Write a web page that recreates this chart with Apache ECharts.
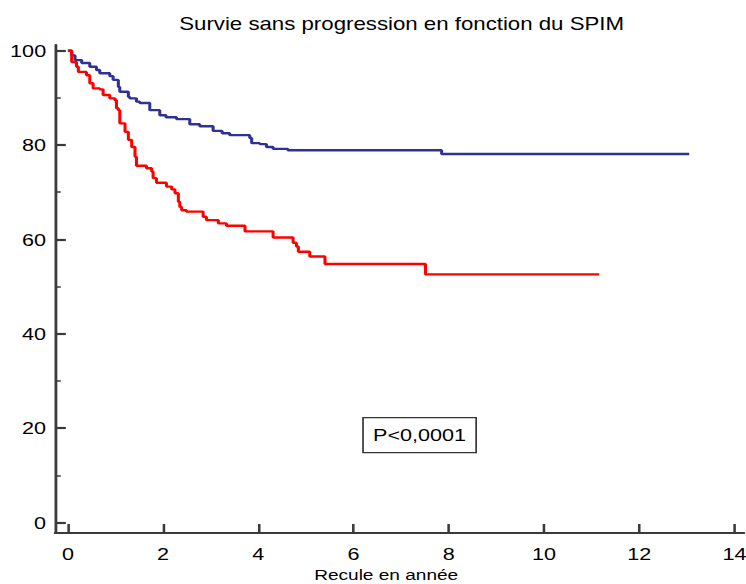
<!DOCTYPE html>
<html>
<head>
<meta charset="utf-8">
<script src="https://cdn.jsdelivr.net/npm/echarts@6/dist/echarts.min.js"></script>
<style>
  html, body { margin: 0; padding: 0; background: #fff; overflow: hidden; }
  /* chart is laid out narrower and widened, giving the broad lettering of the figure */
  #chart { width: 587px; height: 584px; transform: scaleX(1.2709); transform-origin: 0 0; }
</style>
</head>
<body>
<div id="chart"></div>
<script>
// Kaplan-Meier estimates: time in years, survival in %
const blueTimes = [0, 0.08, 0.15, 0.29, 0.46, 0.60, 0.67, 0.88, 0.95, 1.06, 1.09, 1.27, 1.30, 1.44, 1.51, 1.72, 1.93, 2.06, 2.28, 2.56, 2.77, 3.05, 3.24, 3.40, 3.82, 3.86, 4.03, 4.17, 4.31, 4.62, 7.85, 13.05];
const blueSurv  = [100, 99.0, 98.0, 97.4, 96.6, 95.9, 95.2, 94.6, 93.8, 92.3, 91.3, 90.2, 89.9, 89.2, 88.9, 87.4, 86.3, 85.9, 85.5, 84.4, 84.0, 83.0, 82.5, 82.1, 81.5, 80.4, 80.2, 79.6, 79.2, 78.9, 78.1, 78.1];

const redTimes = [0, 0.08, 0.18, 0.22, 0.39, 0.46, 0.53, 0.67, 0.74, 0.88, 0.99, 1.02, 1.06, 1.09, 1.20, 1.27, 1.34, 1.41, 1.44, 1.65, 1.76, 1.79, 1.86, 2.07, 2.18, 2.25, 2.32, 2.35, 2.39, 2.49, 2.84, 2.91, 3.16, 3.33, 3.72, 4.31, 4.73, 4.80, 4.84, 5.08, 5.40, 7.51, 11.16];
const redSurv  = [100, 97.6, 96.6, 95.5, 94.8, 93.1, 92.0, 91.8, 90.6, 89.9, 89.5, 87.8, 87.4, 84.6, 82.8, 81.1, 79.6, 77.5, 75.6, 75.1, 74.4, 73.0, 72.0, 71.2, 70.6, 69.8, 68.0, 66.9, 66.2, 65.9, 64.8, 64.1, 63.4, 62.9, 61.7, 60.4, 59.3, 58.5, 57.4, 56.4, 54.8, 52.6, 52.6];

const xTicks = [0, 2, 4, 6, 8, 10, 12, 14];
const yTicks = [0, 20, 40, 60, 80, 100];
const yMinorTicks = [10, 30, 50, 70, 90];

const titleText = 'Survie sans progression en fonction du SPIM';
const xAxisName = 'Recule en année';
const pValueText = 'P<0,0001';

const pairs = (t, s) => t.map((v, i) => [v, s[i]]);

const FONT = "'Liberation Sans', Arial, sans-serif";
const AXIS_COLOR = '#3a3a3a';
const Y_MIN = -2.2, Y_MAX = 101.2;

const chart = echarts.init(document.getElementById('chart'), null, { renderer: 'svg' });

chart.setOption({
  animation: false,
  backgroundColor: '#fff',
  title: {
    text: titleText,
    left: 311,
    top: 10,
    textAlign: 'center',
    textStyle: { fontFamily: FONT, fontSize: 17.5, fontWeight: 'normal', color: '#000' }
  },
  grid: { left: 43.3, right: 1.6, top: 45, bottom: 51, containLabel: false, outerBoundsMode: 'none' },
  xAxis: {
    type: 'value',
    min: -0.27,
    max: 14.2,
    name: xAxisName,
    nameLocation: 'middle',
    nameGap: 33,
    nameTextStyle: { fontFamily: FONT, fontSize: 15, color: '#000', padding: [0, 21, 0, 0] },
    axisLine: { show: true, onZero: false, lineStyle: { color: AXIS_COLOR, width: 2.2 } },
    axisTick: { show: true, inside: true, length: 9, customValues: xTicks, lineStyle: { color: AXIS_COLOR, width: 2 } },
    axisLabel: { customValues: xTicks, margin: 12, fontFamily: FONT, fontSize: 17, color: '#000' },
    splitLine: { show: false }
  },
  yAxis: [
    {
      type: 'value',
      min: Y_MIN,
      max: Y_MAX,
      axisLine: { show: true, onZero: false, lineStyle: { color: AXIS_COLOR, width: 2.2 } },
      axisTick: { show: true, inside: true, length: 8.5, customValues: yTicks, lineStyle: { color: AXIS_COLOR, width: 2.2 } },
      axisLabel: { customValues: yTicks, margin: 7, fontFamily: FONT, fontSize: 17, color: '#000' },
      splitLine: { show: false }
    },
    {
      // minor ticks between the labelled ones
      type: 'value',
      min: Y_MIN,
      max: Y_MAX,
      position: 'left',
      axisLine: { show: false, onZero: false },
      axisTick: { show: true, inside: true, length: 4.5, customValues: yMinorTicks, lineStyle: { color: AXIS_COLOR, width: 1.5 } },
      axisLabel: { show: false },
      splitLine: { show: false }
    }
  ],
  series: [
    {
      name: 'bleu',
      type: 'line',
      step: 'end',
      showSymbol: false,
      data: pairs(blueTimes, blueSurv),
      lineStyle: { color: '#2f3193', width: 2.4 },
      itemStyle: { color: '#2f3193' },
      z: 3
    },
    {
      name: 'rouge',
      type: 'line',
      step: 'end',
      showSymbol: false,
      data: pairs(redTimes, redSurv),
      lineStyle: { color: '#ff0000', width: 2.4 },
      itemStyle: { color: '#ff0000' },
      z: 4
    }
  ],
  graphic: [
    {
      type: 'group',
      left: 285,
      top: 417,
      children: [
        {
          type: 'rect',
          shape: { x: 0, y: 0, width: 89, height: 35 },
          style: { fill: '#fff', stroke: '#333', lineWidth: 1.3 }
        },
        {
          type: 'text',
          x: 44.5,
          y: 17.5,
          style: {
            text: pValueText,
            fill: '#000',
            font: '17px ' + FONT,
            textAlign: 'center',
            textVerticalAlign: 'middle'
          }
        }
      ]
    }
  ]
});
</script>
</body>
</html>
